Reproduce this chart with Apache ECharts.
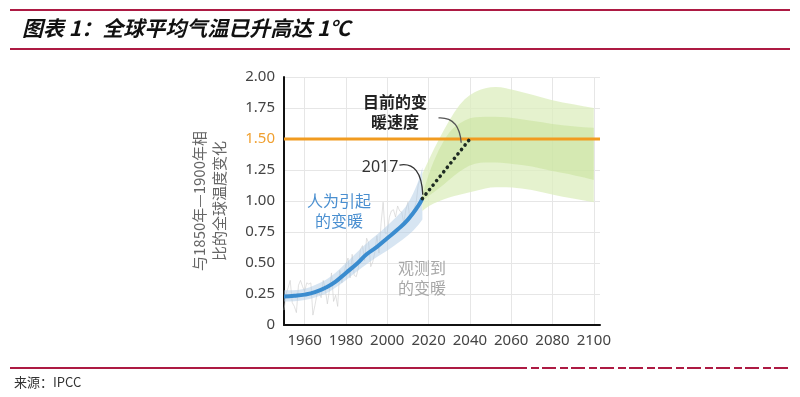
<!DOCTYPE html>
<html><head><meta charset="utf-8">
<script src="https://cdn.jsdelivr.net/npm/echarts@6/dist/echarts.min.js"></script>
<style>html,body{margin:0;padding:0;background:#fff}#c{width:800px;height:397px}</style>
</head><body><div id="c"></div>
<script>
// ---- data ----
const xTickLabels = [1960, 1980, 2000, 2020, 2040, 2060, 2080, 2100];
const humanYears = [1950,1955,1960,1965,1970,1975,1980,1985,1990,1995,2000,2005,2010,2015,2017];
const humanWarming = [0.23,0.235,0.245,0.265,0.30,0.35,0.42,0.49,0.57,0.63,0.70,0.77,0.85,0.96,1.02];
const humanLow  = [0.19,0.19,0.20,0.22,0.25,0.30,0.36,0.43,0.49,0.55,0.60,0.66,0.72,0.80,0.85];
const humanHigh = [0.28,0.28,0.29,0.32,0.36,0.42,0.50,0.58,0.66,0.73,0.80,0.88,0.97,1.15,1.27];
const obsYears = [1950,1951,1952,1953,1954,1955,1956,1957,1958,1959,1960,1961,1962,1963,1964,1965,1966,1967,1968,1969,1970,1971,1972,1973,1974,1975,1976,1977,1978,1979,1980,1981,1982,1983,1984,1985,1986,1987,1988,1989,1990,1991,1992,1993,1994,1995,1996,1997,1998,1999,2000,2001,2002,2003,2004,2005,2006,2007,2008,2009,2010,2011,2012,2013,2014,2015,2016,2017];
const obsWarming = [0.12,0.25,0.30,0.36,0.18,0.15,0.10,0.32,0.36,0.31,0.27,0.34,0.33,0.34,0.08,0.16,0.25,0.26,0.22,0.36,0.29,0.17,0.28,0.42,0.19,0.24,0.15,0.44,0.34,0.41,0.49,0.54,0.38,0.57,0.40,0.39,0.46,0.61,0.64,0.52,0.70,0.66,0.47,0.51,0.59,0.72,0.58,0.82,0.99,0.74,0.74,0.87,0.92,0.93,0.87,0.96,0.92,0.91,0.82,0.93,0.99,0.85,0.90,0.94,0.99,1.13,1.18,1.10];
const projYears = [2017,2020,2025,2030,2035,2040,2045,2050,2055,2060,2070,2080,2090,2100];
const projOuterLow  = [0.92,0.96,1.00,1.03,1.05,1.07,1.09,1.11,1.11,1.11,1.09,1.05,1.02,0.99];
const projOuterHigh = [1.22,1.33,1.50,1.65,1.78,1.86,1.90,1.92,1.92,1.90,1.86,1.81,1.78,1.75];
const projInnerLow  = [1.00,1.04,1.10,1.17,1.24,1.29,1.31,1.31,1.31,1.30,1.28,1.24,1.21,1.17];
const projInnerHigh = [1.05,1.22,1.42,1.56,1.63,1.67,1.68,1.68,1.68,1.67,1.65,1.62,1.60,1.59];
const currentRateYears = [2017, 2040];
const currentRateValues = [1.02, 1.50];
const targetLevel = 1.5;
const xMin = 1950, xMax = 2103;

// annotation anchors (data coordinates)
const noteTexts = ['目前的变\n暖速度', '2017', '人为引起\n的变暖', '观测到\n的变暖'];
const noteAnchors = [[2003.8, 1.72], [1996.5, 1.27], [1976.6, 0.92], [2016.8, 0.38]];
const arcFrom = [[2005.9, 1.29], [2024.8, 1.67]];
const arcCtrl = [[2016.5, 1.32], [2034.8, 1.68]];
const arcTo = [[2017.2, 1.05], [2035.8, 1.47]];

// ---- chart ----
const chart = echarts.init(document.getElementById('c'), null, {renderer: 'canvas'});
const num = '"Noto Sans", "Open Sans", sans-serif';
const cjk = '"Noto Sans CJK SC", sans-serif';
const red = '#ad1a43';

function smoothEdge(pts, first) {
  let d = (first ? 'M' : 'L') + pts[0][0] + ' ' + pts[0][1];
  for (let i = 1; i < pts.length - 1; i++) {
    const mx = (pts[i][0] + pts[i + 1][0]) / 2, my = (pts[i][1] + pts[i + 1][1]) / 2;
    d += ' Q' + pts[i][0] + ' ' + pts[i][1] + ' ' + mx + ' ' + my;
  }
  const l = pts[pts.length - 1];
  d += ' L' + l[0] + ' ' + l[1];
  return d;
}

function band(years, lo, hi, color, z) {
  return {
    type: 'custom', z: z, silent: true, data: [[2000, 1]],
    renderItem: function (params, api) {
      const up = [], dn = [];
      for (let i = 0; i < years.length; i++) up.push(api.coord([years[i], hi[i]]));
      for (let i = years.length - 1; i >= 0; i--) dn.push(api.coord([years[i], lo[i]]));
      const d = smoothEdge(up, true) + ' ' + smoothEdge(dn, false) + ' Z';
      return {type: 'path', shape: {pathData: d}, style: {fill: color}};
    }
  };
}

const noteColors = ['#222', '#333', '#4a8fd0', '#a8a8a8'];
const noteWeights = ['bold', 'normal', 'normal', 'normal'];

const option = {
  animation: false,
  grid: {left: 284, top: 77, width: 316, height: 248, containLabel: false},
  xAxis: {
    type: 'value', min: xMin, max: xMax,
    axisLine: {show: true, lineStyle: {color: '#111', width: 2}},
    axisTick: {show: false, customValues: xTickLabels},
    axisLabel: {customValues: xTickLabels, color: '#444', fontSize: 15, fontFamily: num, margin: 8,
      formatter: function (v) { return String(v); }},
    splitLine: {show: true, lineStyle: {color: '#e6e6e6', width: 1}}
  },
  yAxis: {
    type: 'value', min: 0, max: 2, interval: 0.25,
    name: '与1850年—1900年相\n比的全球温度变化',
    nameLocation: 'middle', nameGap: 55, nameRotate: 90,
    nameTextStyle: {color: '#666', fontSize: 15, fontFamily: cjk, lineHeight: 20},
    axisLine: {show: true, lineStyle: {color: '#111', width: 2}},
    axisTick: {show: false},
    axisLabel: {
      color: function (v) { return Number(v) === targetLevel ? '#f0a030' : '#444'; },
      fontSize: 15, fontFamily: num, margin: 9,
      formatter: function (v) { return v === 0 ? '0' : v.toFixed(2); }
    },
    splitLine: {show: true, lineStyle: {color: '#e6e6e6', width: 1}}
  },
  graphic: [
    {type: 'line', shape: {x1: 10, y1: 10, x2: 790, y2: 10}, style: {stroke: red, lineWidth: 2}},
    {type: 'line', shape: {x1: 10, y1: 49, x2: 790, y2: 49}, style: {stroke: red, lineWidth: 2}},
    {type: 'text', left: 22, top: 18, style: {text: '图表 1：全球平均气温已升高达 1℃', fontSize: 21, fontWeight: 'bold', fontStyle: 'italic', fontFamily: cjk, fill: '#111'}},
    {type: 'line', shape: {x1: 10, y1: 368, x2: 513, y2: 368}, style: {stroke: red, lineWidth: 2}},
    {type: 'line', shape: {x1: 513, y1: 368, x2: 790, y2: 368}, style: {stroke: red, lineWidth: 2, lineDash: [14, 4, 8, 3]}},
    {type: 'text', left: 14, top: 376, style: {text: '来源：IPCC', fontSize: 13, fontFamily: cjk, fill: '#333'}}
  ],
  series: [
    {type: 'line', z: 1, silent: true, showSymbol: false, data: obsYears.map((y, i) => [y, obsWarming[i]]),
     lineStyle: {color: 'rgba(205,205,205,0.6)', width: 1}},
    band(humanYears, humanLow, humanHigh, 'rgba(175,203,230,0.5)', 2),
    band(projYears, projOuterLow, projOuterHigh, 'rgba(220,237,190,0.75)', 3),
    band(projYears, projInnerLow, projInnerHigh, 'rgba(190,222,140,0.42)', 4),
    {type: 'line', z: 5, silent: true, showSymbol: false, data: [[xMin, targetLevel], [xMax, targetLevel]],
     lineStyle: {color: '#f19b20', width: 3}},
    {type: 'line', z: 6, silent: true, smooth: true, showSymbol: false,
     data: humanYears.map((y, i) => [y, humanWarming[i]]),
     lineStyle: {color: '#3a8ccf', width: 4}},
    {type: 'line', z: 7, silent: true, showSymbol: false,
     data: currentRateYears.map((y, i) => [y, currentRateValues[i]]),
     lineStyle: {color: '#1d2a22', width: 3.6, type: [0.1, 5.6], cap: 'round'}},
    {type: 'custom', z: 8, silent: true, data: [[2000, 1]],
     renderItem: function (params, api) {
       const children = [];
       for (let i = 0; i < noteTexts.length; i++) {
         const p = api.coord(noteAnchors[i]);
         children.push({type: 'text', x: p[0], y: p[1], style: {
           text: noteTexts[i], fill: noteColors[i], fontSize: 16, fontWeight: noteWeights[i],
           fontFamily: i === 1 ? num : cjk, lineHeight: 20, align: 'center', verticalAlign: 'middle'}});
       }
       for (let i = 0; i < arcFrom.length; i++) {
         const a = api.coord(arcFrom[i]), c = api.coord(arcCtrl[i]), b = api.coord(arcTo[i]);
         children.push({type: 'bezierCurve', shape: {x1: a[0], y1: a[1], cpx1: c[0], cpy1: c[1], x2: b[0], y2: b[1]},
           style: {stroke: i === 0 ? '#333' : '#555', lineWidth: 1.3, fill: null}});
       }
       return {type: 'group', children: children};
     }}
  ]
};
chart.setOption(option);
</script>
</body></html>
